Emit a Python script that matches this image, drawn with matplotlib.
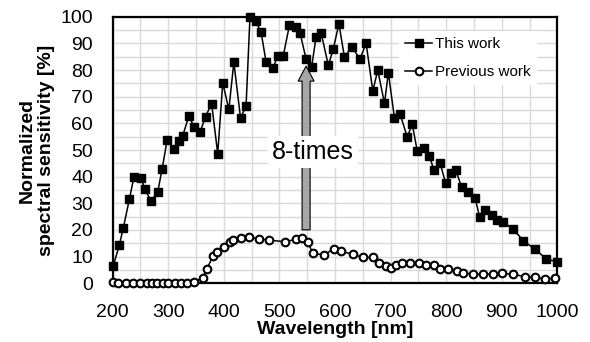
import matplotlib
matplotlib.use("Agg")
import matplotlib.pyplot as plt
from matplotlib.ticker import MultipleLocator
from matplotlib.patches import FancyArrowPatch

plt.rcParams['font.family'] = ['Liberation Sans', 'DejaVu Sans']

# This work (filled squares)
wl_this = [201, 212, 219, 230, 238, 251, 258, 269, 281, 289, 298, 310, 319, 326, 337,
           347, 357, 367, 378, 389, 398, 409, 418, 430, 440, 447, 457, 467, 476, 488,
           497, 507, 518, 529, 537, 548, 558, 566, 575, 588, 597, 607, 617, 630, 645,
           656, 668, 677, 689, 696, 707, 717, 730, 739, 748, 760, 770, 778, 789, 799,
           809, 817, 828, 840, 852, 860, 869, 882, 891, 903, 920, 939, 960, 980, 1000]
sens_this = [6.5, 14.4, 20.7, 31.5, 39.7, 39.5, 35.2, 30.9, 34.2, 43.0, 53.7, 50.5, 53.2, 55.4, 62.6,
             58.6, 56.6, 62.5, 67.4, 48.6, 75.2, 65.2, 82.9, 62.0, 66.5, 100.0, 98.4, 94.2, 83.0, 80.6,
             85.2, 85.4, 96.8, 96.0, 94.0, 84.1, 81.2, 92.5, 94.0, 81.7, 88.0, 97.3, 84.9, 88.6, 84.2,
             90.0, 72.2, 79.9, 67.5, 79.0, 61.9, 63.5, 54.9, 59.7, 49.6, 50.7, 47.7, 42.4, 45.1, 37.7,
             41.3, 42.6, 36.0, 34.2, 32.1, 25.0, 27.5, 25.6, 23.7, 23.0, 20.4, 16.0, 12.7, 9.2, 8.0]

# Previous work (open circles)
wl_prev = [201, 210, 224, 237, 249, 261, 271, 280, 291, 300, 312, 323, 334, 347, 362,
           369, 381, 388, 401, 411, 417, 431, 446, 463, 481, 510, 530, 541, 551, 560,
           580, 599, 611, 632, 651, 669, 680, 692, 701, 709, 721, 735, 752, 763, 779,
           789, 803, 820, 831, 849, 867, 884, 900, 921, 941, 959, 977, 995]
sens_prev = [0.5, 0, 0, 0, 0, 0, 0, 0, 0, 0, 0, 0, 0, 0.4, 2.1,
             5.2, 10.4, 11.6, 13.6, 15.6, 16.2, 17.0, 17.2, 16.7, 16.2, 15.6, 16.5, 17.1, 15.6, 11.2,
             10.7, 13.0, 12.0, 10.9, 9.7, 9.7, 7.5, 6.5, 5.7, 6.7, 7.7, 7.5, 7.5, 6.9, 6.9,
             5.5, 5.3, 4.8, 3.9, 3.4, 3.4, 3.5, 3.7, 3.4, 2.5, 2.2, 1.6, 1.9]

fig = plt.figure(figsize=(5.9, 3.42), dpi=100)
ax = fig.add_axes([0.191, 0.1716, 0.7536, 0.7796])

ax.plot(wl_this, sens_this, color='black', lw=1.1, marker='s', ms=5.5,
        mfc='black', mec='black', label='This work', clip_on=False, zorder=4)
ax.plot(wl_prev, sens_prev, color='black', lw=1.1, marker='o', ms=5.5,
        mfc='white', mec='black', mew=1.5, label='Previous work', clip_on=False, zorder=4)

ax.set_xlim(200, 1000)
ax.set_ylim(0, 100)
ax.xaxis.set_major_locator(MultipleLocator(100))
ax.xaxis.set_minor_locator(MultipleLocator(50))
ax.yaxis.set_major_locator(MultipleLocator(10))
ax.yaxis.set_minor_locator(MultipleLocator(5))
ax.grid(which='both', color='#d9d9d9', lw=1.0, zorder=0)
ax.set_axisbelow(True)
ax.tick_params(which='both', length=0, labelsize=14)
ax.tick_params(axis='x', pad=15)
ax.tick_params(axis='y', pad=14)
for s in ax.spines.values():
    s.set_linewidth(1.6)
    s.set_color('black')

ax.set_xlabel('Wavelength [nm]', fontsize=14, fontweight='bold', labelpad=0)
ax.set_ylabel('Normalized\nspectral sensitivity [%]', fontsize=14, fontweight='bold',
              labelpad=4, linespacing=1.15)

arrow = FancyArrowPatch((548, 19), (548, 82.5), transform=ax.transData,
                        arrowstyle='simple,tail_width=0.58,head_width=1.15,head_length=1.08',
                        mutation_scale=10, fc='#a6a6a6', ec='black', lw=0.8, zorder=5)
ax.add_patch(arrow)
ax.text(560, 49.2, '8-times', fontsize=18, ha='center', va='center', zorder=6,
        bbox=dict(facecolor='white', edgecolor='none', pad=3))

leg = ax.legend(loc='upper left', bbox_to_anchor=(0.626, 0.975), fontsize=11,
                frameon=True, fancybox=False, handlelength=1.8, handletextpad=0.2,
                labelspacing=0.9, borderpad=0.4)
leg.get_frame().set_edgecolor('none')
leg.get_frame().set_facecolor('white')
leg.get_frame().set_alpha(1)

fig.savefig('out.png', dpi=100)
